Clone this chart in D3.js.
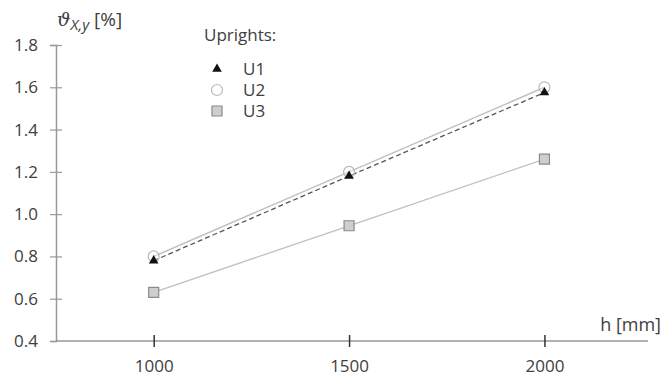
<!DOCTYPE html>
<html>
<head>
<meta charset="utf-8">
<script src="https://cdn.jsdelivr.net/npm/d3@7"></script>
<style>
  body { margin: 0; background: #fff; }
  text { font-family: "Open Sans", "Liberation Sans", sans-serif; fill: #404040; }
</style>
</head>
<body>
<div id="chart"></div>
<script>
var heights = [1000, 1500, 2000];
var u1 = [0.78, 1.18, 1.575];
var u2 = [0.80, 1.20, 1.60];
var u3 = [0.63, 0.945, 1.26];
var y_ticks = [0.4, 0.6, 0.8, 1.0, 1.2, 1.4, 1.6, 1.8];
var legend_names = ["U1", "U2", "U3"];

var width = 666, height = 377;
var svg = d3.select("#chart").append("svg")
    .attr("width", width)
    .attr("height", height);

var x = d3.scaleLinear().domain([750, 2265]).range([56, 648]);
var y = d3.scaleLinear().domain([0.4, 1.8]).range([341, 45]);

// y axis
var yAxis = d3.axisLeft(y).tickValues(y_ticks).tickSize(6).tickPadding(12)
    .tickFormat(d3.format(".1f"));
var gy = svg.append("g").attr("transform", "translate(" + x(750) + ",0)").call(yAxis);
gy.select(".domain").attr("stroke", "#999").attr("stroke-width", 1.5);
gy.selectAll(".tick line").attr("stroke", "#999").attr("stroke-width", 1.2)
    .attr("x1", 6).attr("x2", -6);
gy.selectAll(".tick line").filter(function(d) { return d === 0.4; }).attr("x1", 0);
gy.selectAll(".tick text").style("font-size", "17px").style("fill", "#404040")
    .style("font-family", "Open Sans, sans-serif");

// x axis
var xAxis = d3.axisBottom(x).tickValues(heights).tickSize(6).tickPadding(13)
    .tickFormat(d3.format("d"));
var gx = svg.append("g").attr("transform", "translate(0," + y(0.4) + ")").call(xAxis);
gx.select(".domain").attr("stroke", "#999").attr("stroke-width", 1.5)
    .attr("d", "M" + x(750) + ",0H" + x(2265));
gx.selectAll(".tick line").attr("stroke", "#333").attr("stroke-width", 1.5)
    .attr("y1", -6).attr("y2", 6);
gx.selectAll(".tick text").style("font-size", "17px").style("fill", "#404040")
    .style("font-family", "Open Sans, sans-serif");

// axis titles
var yt = svg.append("text").attr("x", 57).attr("y", 26).style("font-size", "19px");
yt.append("tspan").style("font-style", "italic").style("font-family", "DejaVu Serif, serif").text("ϑ");
yt.append("tspan").attr("dy", 4).style("font-style", "italic").style("font-size", "15px").text("X,y");
yt.append("tspan").attr("dy", -4).text(" [%]");

svg.append("text").attr("x", 661).attr("y", 331).attr("text-anchor", "end")
    .style("font-size", "18px").text("h [mm]");

var line = d3.line().x(function(d) { return x(d[0]); }).y(function(d) { return y(d[1]); });
function pts(vals) { return heights.map(function(h, i) { return [h, vals[i]]; }); }

// lines
svg.append("path").attr("d", line(pts(u2))).attr("fill", "none")
    .attr("stroke", "#c0c0c0").attr("stroke-width", 1.5);
svg.append("path").attr("d", line(pts(u3))).attr("fill", "none")
    .attr("stroke", "#c0c0c0").attr("stroke-width", 1.3);
svg.append("path").attr("d", line(pts(u1))).attr("fill", "none")
    .attr("stroke", "#555").attr("stroke-width", 1.3).attr("stroke-dasharray", "5,3");

var tri = d3.symbol().type(d3.symbolTriangle).size(40);

function drawMarkers(vals, kind) {
  svg.append("g").selectAll("path").data(pts(vals)).enter().append("path")
    .attr("transform", function(d) { return "translate(" + x(d[0]) + "," + y(d[1]) + ")"; })
    .call(function(s) { styleMarker(s, kind); });
}
function styleMarker(s, kind) {
  if (kind === "U1") {
    s.attr("d", tri).attr("fill", "#111");
  } else if (kind === "U2") {
    s.attr("d", d3.symbol().type(d3.symbolCircle).size(95)).attr("fill", "#fff")
      .attr("fill-opacity", 0.3).attr("stroke", "#b8b8b8").attr("stroke-width", 1.2);
  } else {
    s.attr("d", d3.symbol().type(d3.symbolSquare).size(100)).attr("fill", "#cfcfcf")
      .attr("stroke", "#8a8a8a").attr("stroke-width", 1.2);
  }
}
drawMarkers(u3, "U3");
drawMarkers(u2, "U2");
drawMarkers(u1, "U1");

// legend
svg.append("text").attr("x", 204).attr("y", 41).style("font-size", "17px").text("Uprights:");
var lg = svg.append("g").selectAll("g").data(legend_names).enter().append("g")
    .attr("transform", function(d, i) { return "translate(217," + (69 + i * 21) + ")"; });
lg.append("path").each(function(d) { styleMarker(d3.select(this), d); });
lg.append("text").attr("x", 26).attr("y", 6).style("font-size", "17px").text(function(d) { return d; });
</script>
</body>
</html>
